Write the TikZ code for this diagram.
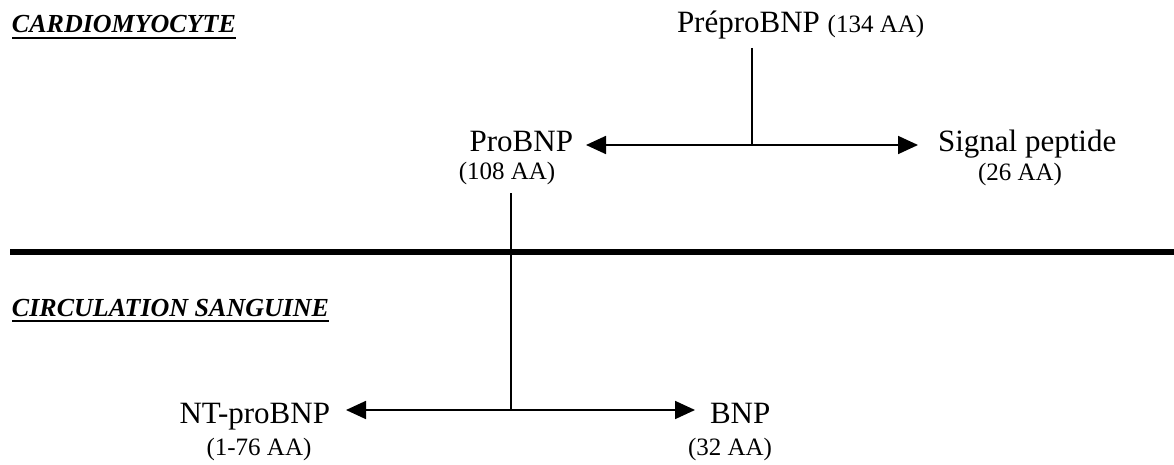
\documentclass[tikz,border=0pt]{standalone}
\usepackage{fontspec}
\setmainfont{Liberation Serif}
\usetikzlibrary{arrows.meta}
\begin{document}
\begin{tikzpicture}[x=1pt,y=-1pt,
  txt/.style={inner sep=0pt, outer sep=0pt},
  nm/.style={txt, font=\fontsize{31}{34}\selectfont},
  aa/.style={txt, font=\fontsize{25}{28}\selectfont},
  head/.style={txt, font=\fontsize{26}{30}\selectfont\bfseries\itshape},
  uline/.style={line width=2pt},
  conn/.style={line width=1.8pt},
  arr/.style={line width=1.8pt, -{Triangle[length=20pt,width=18pt]}},
  sep/.style={line width=5.5pt}]
\useasboundingbox (0,0) rectangle (1174,465);
% headings
\node[head, anchor=base west] (h1) at (12,33) {CARDIOMYOCYTE};
\draw[uline] ([yshift=-5pt]h1.base west) -- ([yshift=-5pt]h1.base east);
\node[head, anchor=base west] (h2) at (12,316) {CIRCULATION SANGUINE};
\draw[uline] ([yshift=-5pt]h2.base west) -- ([yshift=-5pt]h2.base east);
% separator
\coordinate (sl) at (10,252);
\coordinate (sr) at (1174,252);
\draw[sep] (sl) -- (sr);
% top
\node[nm, anchor=base west] (prepro) at (677,33) {PréproBNP {\fontsize{25}{28}\selectfont(134 AA)}};
\coordinate (j1) at (752,145);
\coordinate (j1top) at (752,48);
\node[nm, anchor=base east] (pro) at (573,152) {ProBNP};
\node[aa, anchor=base] (proaa) at (507,179) {(108 AA)};
\node[nm, anchor=base west] (sig) at (938,152) {Signal peptide};
\node[aa, anchor=base west] (sigaa) at (978,180) {(26 AA)};
\draw[conn] (j1top) -- (j1);
\draw[arr] (j1) -- ([xshift=13pt]j1 -| pro.east);
\draw[arr] (j1) -- ([xshift=-20pt]j1 -| sig.west);
% bottom
\coordinate (j2) at (511,410);
\coordinate (j2top) at (511,193);
\node[nm, anchor=base east] (nt) at (330,423) {NT-proBNP};
\node[aa, anchor=base] (ntaa) at (259,455) {(1-76 AA)};
\node[nm, anchor=base west] (bnp) at (710,423) {BNP};
\node[aa, anchor=base west] (bnpaa) at (688,455) {(32 AA)};
\draw[conn] (j2top) -- (j2);
\draw[arr] (j2) -- ([xshift=16pt]j2 -| nt.east);
\draw[arr] (j2) -- ([xshift=-15pt]j2 -| bnp.west);
\end{tikzpicture}
\end{document}
